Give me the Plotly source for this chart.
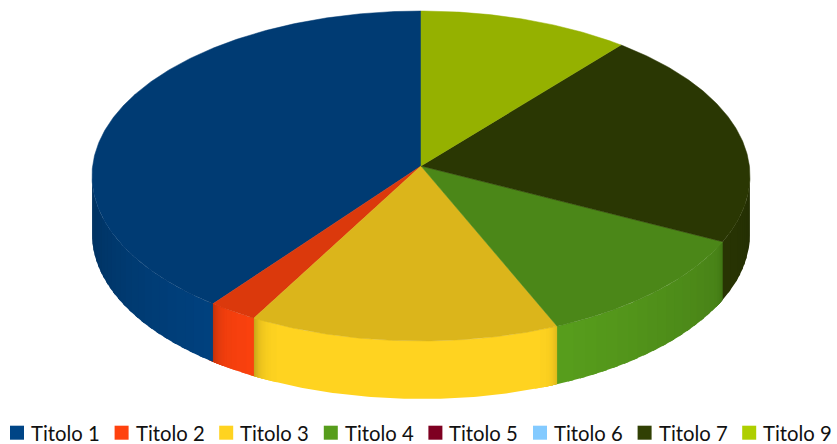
import numpy as np
import plotly.graph_objects as go

# ---- data
categories = ["Titolo 1", "Titolo 2", "Titolo 3", "Titolo 4", "Titolo 5", "Titolo 6", "Titolo 7", "Titolo 9"]
values = [39.7, 2.3, 14.4, 11.2, 0, 0, 21.4, 11.0]
colors = ["#004586", "#ff420e", "#ffd320", "#579d1c", "#7e0021", "#83caff", "#314004", "#aecf00"]
# wall darkening near the low-angle and high-angle end of each slice (clockwise angle from top)
edge_low = [0, 0, .14, .14, 0, 0, 0, 0]
edge_high = [0, .22, .22, 0, 0, 0, 0, 0]

CX, CY, RX, RY, K, DEPTH = 421, 166, 328.4, 164.4, 0.0606, 58
TOP_SHADE = 0.857
LEGEND_X0, LEGEND_STEP, LEGEND_Y, LEGEND_GAP = 17, 104.6, 432.7, 12


def project(theta_deg, drop=0.0):
    t = np.radians(theta_deg)
    u, v = np.sin(t), np.cos(t)
    w = 1 + K * v
    return CX + RX * u / w, CY - RY * v / w + drop


def shade(hex_color, f):
    r, g, b = (int(hex_color[i:i + 2], 16) for i in (1, 3, 5))
    return f"rgb({round(r * f)},{round(g * f)},{round(b * f)})"


fig = go.Figure()
sil_a = np.degrees(np.arccos(-K))
sil_b = 360 - sil_a

# slices run counter-clockwise from the top
spans = []
a = 360.0
for val in values:
    b = a - val / sum(values) * 360
    spans.append((b, a))
    a = b


def add_poly(xs, ys, col, lw=0):
    fig.add_trace(go.Scatter(x=xs, y=ys, mode="lines", fill="toself", fillcolor=col,
                             line=dict(color=col, width=lw), hoverinfo="skip", showlegend=False))


# ---- walls: contiguous runs of equal shade become one polygon
STEP = 0.25
runs = []
for i, (a, b) in enumerate(spans):
    if values[i] == 0:
        continue
    lo, hi = max(a, sil_a), min(b, sil_b)
    if lo >= hi:
        continue
    n = max(1, int(np.ceil((hi - lo) / STEP)))
    edges = np.linspace(lo, hi, n + 1)
    for t0, t1 in zip(edges[:-1], edges[1:]):
        mid = (t0 + t1) / 2
        f = np.interp(abs(mid - 180), [0, 25, 64, 87], [1, 1, .82, .7])
        f *= 1 - edge_low[i] * np.exp(-(mid - a) / 0.9)
        f *= 1 - edge_high[i] * np.exp(-(b - mid) / 1.1)
        col = shade(colors[i], round(f * 100) / 100)
        if runs and runs[-1][0] == col and abs(runs[-1][2] - t0) < 1e-6:
            runs[-1][2] = t1
        else:
            runs.append([col, t0, t1])

# painted in angle order, each run running on under the next so no seams show
for col, t0, t1 in sorted(runs, key=lambda r: r[1]):
    th = np.linspace(t0, min(t1 + 1.0, sil_b), max(2, int((t1 - t0) * 2) + 4))
    x, y = project(th)
    xs = list(x) + list(x[::-1]) + [x[0]]
    ys = list(y) + list((y + DEPTH)[::-1]) + [y[0]]
    add_poly(xs, ys, col)

# ---- top faces
for i, (a, b) in enumerate(spans):
    if values[i] == 0:
        continue
    th = np.linspace(a, b, max(3, int((b - a) * 2)))
    x, y = project(th)
    col = shade(colors[i], TOP_SHADE)
    add_poly([CX] + list(x) + [CX], [CY] + list(y) + [CY], col, 0.5)

# ---- legend key
sw_x = [LEGEND_X0 + LEGEND_STEP * i for i in range(len(categories))]
fig.add_trace(go.Scatter(x=sw_x, y=[LEGEND_Y] * len(categories), mode="markers", hoverinfo="skip",
                         showlegend=False, marker=dict(symbol="square", size=14, color=colors, line=dict(width=0))))
for sx, name in zip(sw_x, categories):
    fig.add_annotation(x=sx + LEGEND_GAP, y=LEGEND_Y, text=name, showarrow=False, xanchor="left", yanchor="middle",
                       xref="x", yref="y", font=dict(family="Lato, Carlito, sans-serif", size=20.3, color="#111111"))

fig.update_layout(
    width=837, height=444, margin=dict(l=0, r=0, t=0, b=0),
    paper_bgcolor="white", plot_bgcolor="white", showlegend=False,
    xaxis=dict(range=[0, 837], visible=False, fixedrange=True),
    yaxis=dict(range=[444, 0], visible=False, fixedrange=True),
)
fig.write_html("out.html", config={"displayModeBar": False},
               post_script="document.body.style.margin='0';document.body.style.overflow='hidden';")
